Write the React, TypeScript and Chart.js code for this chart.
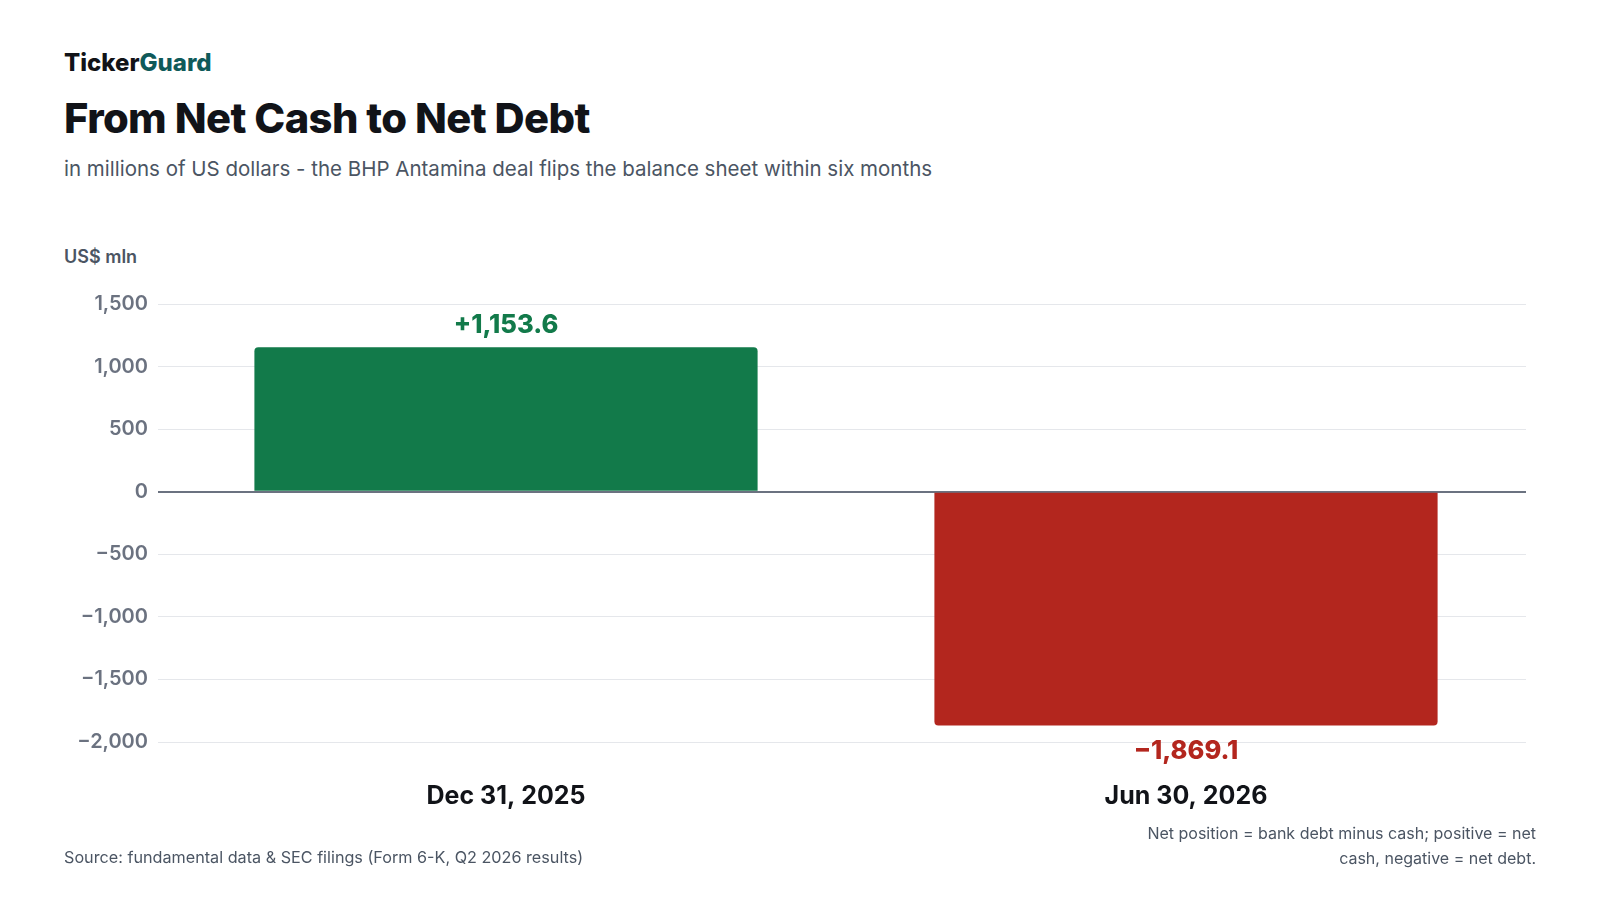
import React, { useEffect, useRef } from "react";
import { Chart, registerables } from "chart.js";

Chart.register(...registerables);

const categories = ["Dec 31, 2025", "Jun 30, 2026"];
const netPosition = [1153.6, -1869.1];
const barColors = ["#127a4a", "#b3261e"];
const yTicks = [1500, 1000, 500, 0, -500, -1000, -1500, -2000];

const FONT = "Inter, 'Noto Sans', sans-serif";

function fmt(v: number, decimals = 0): string {
  const s = Math.abs(v).toLocaleString("en-US", {
    minimumFractionDigits: decimals,
    maximumFractionDigits: decimals,
  });
  if (v < 0) return "\u2212" + s;
  return s;
}

const valueLabels = {
  id: "valueLabels",
  afterDatasetsDraw(chart: any) {
    const ctx = chart.ctx;
    const meta = chart.getDatasetMeta(0);
    ctx.save();
    ctx.font = `800 25.5px ${FONT}`;
    ctx.textAlign = "center";
    ctx.textBaseline = "alphabetic";
    meta.data.forEach((bar: any, i: number) => {
      const v = netPosition[i];
      ctx.fillStyle = barColors[i];
      const txt = v >= 0 ? "+" + fmt(v, 1) : fmt(v, 1);
      const y = v >= 0 ? bar.y - 14 : bar.y + 33;
      ctx.fillText(txt, bar.x, y);
    });
    ctx.restore();
  },
};

function NetChart() {
  const ref = useRef<HTMLCanvasElement | null>(null);
  useEffect(() => {
    if (!ref.current) return;
    const chart = new Chart(ref.current, {
      type: "bar",
      data: {
        labels: categories,
        datasets: [
          {
            data: netPosition,
            backgroundColor: barColors,
            borderRadius: 4,
            borderSkipped: "start",
            barPercentage: 0.74,
            categoryPercentage: 1,
          },
        ],
      },
      options: {
        animation: false,
        responsive: false,
        maintainAspectRatio: false,
        devicePixelRatio: 1,
        layout: { padding: { top: 24, right: 10, bottom: 0, left: 0 } },
        plugins: {
          legend: { display: false },
          tooltip: { enabled: false },
          title: { display: false },
        },
        scales: {
          x: {
            grid: { display: false, drawTicks: false },
            border: { display: false },
            ticks: {
              color: "#111318",
              font: { family: FONT, size: 25, weight: "700" },
              padding: 39,
            },
          },
          y: {
            min: -2000,
            max: 1500,
            afterFit: (scale: any) => {
              scale.width = 102;
            },
            afterBuildTicks: (scale: any) => {
              scale.ticks = yTicks.map((v) => ({ value: v }));
            },
            border: { display: false },
            grid: {
              color: (c: any) => (c.tick && c.tick.value === 0 ? "#6b7280" : "#e5e7eb"),
              lineWidth: (c: any) => (c.tick && c.tick.value === 0 ? 2 : 1),
              drawTicks: true,
              tickLength: 8,
            },
            ticks: {
              color: "#6b7280",
              font: { family: FONT, size: 20, weight: "600" },
              padding: 10,
              callback: (v: any) => fmt(Number(v)),
            },
          },
        },
      },
      plugins: [valueLabels],
    });
    return () => chart.destroy();
  }, []);
  return <canvas ref={ref} width={1472} height={570} style={{ width: 1472, height: 570, display: "block" }} />;
}

export default function App() {
  const abs = (top: number, extra: React.CSSProperties = {}): React.CSSProperties => ({
    position: "absolute",
    top,
    left: 64,
    lineHeight: 1,
    margin: 0,
    whiteSpace: "nowrap",
    ...extra,
  });
  return (
    <div
      style={{
        position: "absolute",
        left: 0,
        top: 0,
        width: 1600,
        height: 900,
        background: "#ffffff",
        fontFamily: FONT,
        overflow: "hidden",
      }}
    >
      <div style={abs(51, { fontSize: 24, fontWeight: 800, color: "#111318" })}>
        Ticker<span style={{ color: "#0f5a5a" }}>Guard</span>
      </div>
      <div style={abs(98, { fontSize: 41.7, fontWeight: 800, color: "#111318", letterSpacing: -0.6 })}>
        From Net Cash to Net Debt
      </div>
      <div style={abs(159, { fontSize: 20.5, fontWeight: 400, color: "#4b5563" })}>
        in millions of US dollars - the BHP Antamina deal flips the balance sheet within six months
      </div>
      <div style={abs(248, { fontSize: 18, fontWeight: 600, color: "#4b5563" })}>US$ mln</div>
      <div style={{ position: "absolute", left: 64, top: 280 }}>
        <NetChart />
      </div>
      <div style={abs(849, { fontSize: 16.2, fontWeight: 400, color: "#4b5563" })}>
        Source: fundamental data &amp; SEC filings (Form 6-K, Q2 2026 results)
      </div>
      <div
        style={{
          position: "absolute",
          right: 64,
          top: 821,
          width: 400,
          textAlign: "right",
          fontSize: 16,
          lineHeight: "25px",
          color: "#4b5563",
        }}
      >
        Net position = bank debt minus cash; positive = net cash, negative = net debt.
      </div>
    </div>
  );
}
